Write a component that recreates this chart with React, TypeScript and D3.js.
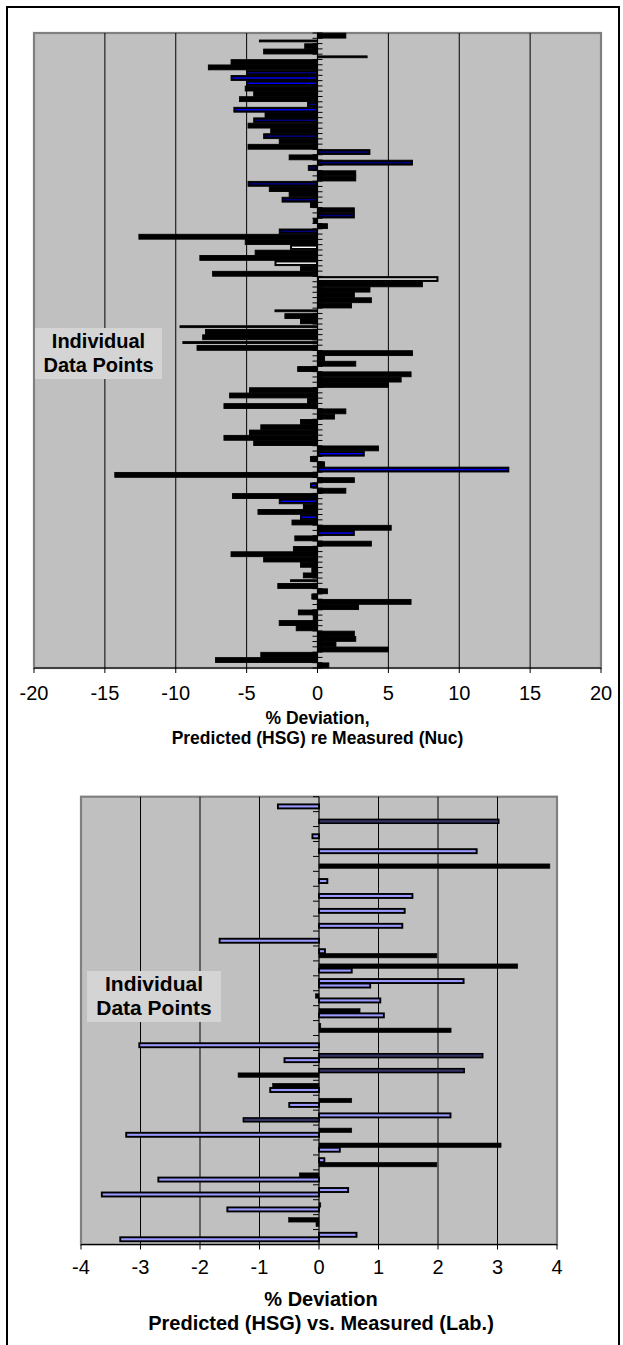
import React from "react";
import * as d3 from "d3";

// % deviation, predicted (HSG) vs nuclear measurement, one value per category, top to bottom
const nucValues = [
  2.0, -4.1, -0.9, -3.8, 3.5, -6.1, -7.7, -5.0, -6.1, -5.0,
  -5.1, -4.5, -5.5, -0.7, -5.9, -3.7, -4.5, -4.9, -3.3, -3.8,
  -2.7, -4.9, 3.7, -2.0, 6.7, -0.65, 2.7, 2.7, -4.9, -3.4,
  -2.0, -2.5, -0.5, 2.6, 2.6, -0.3, 0.7, -2.7, -12.6, -5.1,
  -1.9, -4.4, -8.3, -3.0, -1.2, -7.4, 8.5, 7.4, 3.7, 2.6,
  3.8, 2.4, -3.0, -2.3, -1.2, -9.7, -7.9, -8.1, -9.5, -8.5,
  6.7, 0.5, 2.7, -1.4, 6.6, 5.9, 5.0, -4.8, -6.2, -0.7,
  -6.6, 2.0, 1.2, -1.2, -4.0, -4.8, -6.6, -4.5, 4.3, 3.3,
  -0.5, 0.5, 13.5, -14.3, 2.6, -0.5, 2.0, -6.0, -2.7, -1.0,
  -4.2, -1.2, -1.8, 5.2, 2.6, -1.6, 3.8, -1.7, -6.1, -3.8,
  -1.2, -0.4, -1.0, -1.9, -2.8, 0.7, -0.4, 6.6, 2.9, -1.35,
  -0.3, -2.7, -1.5, 2.6, 2.7, 1.3, 5.0, -4.0, -7.2, 0.8,
];
// k = plain, t = thin, n = navy core, b = blue core, w = white core
const nucKinds =
  "ktkktkknbb" + "kkknbknkkn" + "kknknnkknk" + "knkknkknkk" +
  "wkkwkkwkkk" + "kktkktkktk" + "kkkkkkkkkk" + "kkkkkkkkkb" +
  "kkbkkbkkbk" + "kbkkbkkkkk" + "kkktkkkkkk" + "kkkkkkkkkk";

const nucTicks = [-20, -15, -10, -5, 0, 5, 10, 15, 20];

// % deviation, predicted (HSG) vs lab measurement: two bars per category (upper, lower)
const labUpper = [
  null, null, null, null, null, null, null, null, null, null,
  0.10, 3.34, 2.43, -0.06, 0.69, 0.03, null, 2.75, 2.44, -0.78,
  0.55, 2.21, 0.55, 3.06, 0.09, -0.33, 0.49, 0.03, -0.51, 0.63,
];
const labUpperKinds = "----------" + "bkbkkk-ddk" + "kbkkbkbkkb";
const labLower = [
  -0.69, 3.02, -0.11, 2.65, 3.88, 0.14, 1.57, 1.44, 1.40, -1.67,
  1.98, 0.55, 0.86, 1.03, 1.09, 2.22, -3.02, -0.58, -1.36, -0.82,
  -0.50, -1.27, -3.24, 0.35, 1.98, -2.70, -3.65, -1.54, -0.05, -3.34,
];
const labLowerKinds = "bdbbkbbbbb" + "kbbbbkbbkb" + "bdbbkbbbkb";

const labTicks = [-4, -3, -2, -1, 0, 1, 2, 3, 4];

const FONT = "'Liberation Sans', Arial, Helvetica, sans-serif";
const PLOT_FILL = "#c0c0c0";
const PLOT_EDGE = "#808080";

function PlotFrame({ x, ticks, top, bottom }) {
  const [x0, x1] = x.range();
  return (
    <g>
      <rect x={x0} y={top} width={x1 - x0} height={bottom - top} fill={PLOT_FILL} stroke={PLOT_EDGE} strokeWidth={2.2} />
      {ticks.filter((t) => t !== ticks[0] && t !== ticks[ticks.length - 1] && t !== 0).map((t) => (
        <line key={t} x1={x(t)} x2={x(t)} y1={top} y2={bottom} stroke="#000" strokeWidth={1} />
      ))}
    </g>
  );
}

function XAxis({ x, ticks, bottom, fontSize, labelGap }) {
  const [x0, x1] = x.range();
  return (
    <g>
      <line x1={x0} x2={x1} y1={bottom} y2={bottom} stroke="#000" strokeWidth={1.2} />
      {ticks.map((t) => (
        <g key={t}>
          <line x1={x(t)} x2={x(t)} y1={bottom} y2={bottom + 5} stroke="#000" strokeWidth={1} />
          <text x={x(t)} y={bottom + labelGap} textAnchor="middle" fontSize={fontSize} fontFamily={FONT} fill="#000">
            {t}
          </text>
        </g>
      ))}
    </g>
  );
}

function NoteBox({ x, y, w, h, fontSize }) {
  return (
    <g>
      <rect x={x} y={y} width={w} height={h} fill="#d4d4d4" />
      <text x={x + w / 2} textAnchor="middle" fontSize={fontSize} fontWeight="bold" fontFamily={FONT} fill="#000">
        <tspan x={x + w / 2} y={y + 19.5}>Individual</tspan>
        <tspan x={x + w / 2} y={y + 43.5}>Data Points</tspan>
      </text>
    </g>
  );
}

function NucChart() {
  const top = 33;
  const bottom = 668;
  const x = d3.scaleLinear().domain([-20, 20]).range([34, 601]);
  const y = d3.scaleBand().domain(d3.range(nucValues.length)).range([top, bottom]);
  const bw = y.bandwidth();
  const zero = x(0);
  const coreColor = { n: "#000080", b: "#0000ff", w: "#ffffff" };

  return (
    <g>
      <PlotFrame x={x} ticks={nucTicks} top={top} bottom={bottom} />
      <NoteBox x={35} y={328} w={127} h={51} fontSize={20} />
      {nucValues.map((v, i) => {
        const kind = nucKinds[i];
        const h = kind === "t" ? bw * 0.35 : bw * 0.92;
        const yy = y(i) + (bw - h) / 2;
        const left = Math.min(zero, x(v));
        const w = Math.abs(x(v) - zero);
        return (
          <g key={i}>
            <rect x={left} y={yy} width={w} height={h} fill="#000" stroke="#000" strokeWidth={0.9} />
            {coreColor[kind] && (
              <rect x={left + 1.5} y={y(i) + bw / 2 - 0.7} width={Math.max(0, w - 3)} height={1.4} fill={coreColor[kind]} />
            )}
          </g>
        );
      })}
      <line x1={zero} x2={zero} y1={top} y2={bottom} stroke="#000" strokeWidth={1.2} />
      {d3.range(nucValues.length + 1).map((i) => {
        const ty = top + i * bw;
        return <line key={i} x1={zero - 5} x2={zero + 5} y1={ty} y2={ty} stroke="#000" strokeWidth={1} />;
      })}
      <XAxis x={x} ticks={nucTicks} bottom={bottom} fontSize={20} labelGap={32} />
      <text x={317.5} textAnchor="middle" fontSize={17.5} fontWeight="bold" fontFamily={FONT} fill="#000">
        <tspan x={317.5} y={724}>% Deviation,</tspan>
        <tspan x={317.5} y={744}>Predicted (HSG) re Measured (Nuc)</tspan>
      </text>
    </g>
  );
}

function LabChart() {
  const top = 796.7;
  const bottom = 1244.5;
  const cats = d3.range(labLower.length);
  const x = d3.scaleLinear().domain([-4, 4]).range([81, 557]);
  const y = d3.scaleBand().domain(cats).range([top, bottom]);
  const bw = y.bandwidth();
  const sub = d3.scaleBand().domain(["upper", "lower"]).range([bw * 0.2, bw * 0.8]);
  const zero = x(0);

  const bars = [];
  cats.forEach((c) => {
    if (labUpper[c] !== null) bars.push({ c, slot: "upper", v: labUpper[c], kind: labUpperKinds[c] });
  });
  cats.forEach((c) => {
    bars.push({ c, slot: "lower", v: labLower[c], kind: labLowerKinds[c] });
  });

  const style = {
    b: { fill: "#9999ff", stroke: "#000", sw: 1.9, h: 4.0 },
    d: { fill: "#333366", stroke: "#000", sw: 1.6, h: 3.8 },
    k: { fill: "#000", stroke: "#000", sw: 0.6, h: 4.4 },
  };

  return (
    <g>
      <PlotFrame x={x} ticks={labTicks} top={top} bottom={bottom} />
      <NoteBox x={87} y={971} w={134} h={51} fontSize={21} />
      {bars.map((b, i) => {
        const s = style[b.kind];
        const cy = y(b.c) + sub(b.slot) + sub.bandwidth() / 2;
        const left = Math.min(zero, x(b.v));
        const w = Math.max(1, Math.abs(x(b.v) - zero));
        return (
          <rect key={i} x={left} y={cy - s.h / 2} width={w} height={s.h} fill={s.fill} stroke={s.stroke} strokeWidth={s.sw} />
        );
      })}
      <line x1={zero} x2={zero} y1={top} y2={bottom} stroke="#000" strokeWidth={1.2} />
      {d3.range(cats.length + 1).map((i) => {
        const ty = top + i * bw;
        return <line key={i} x1={zero - 6} x2={zero} y1={ty} y2={ty} stroke="#000" strokeWidth={1} />;
      })}
      <XAxis x={x} ticks={labTicks} bottom={bottom} fontSize={20} labelGap={29.5} />
      <text x={321} textAnchor="middle" fontSize={20} fontWeight="bold" fontFamily={FONT} fill="#000">
        <tspan x={321} y={1306}>% Deviation</tspan>
        <tspan x={321} y={1329.5}>Predicted (HSG) vs. Measured (Lab.)</tspan>
      </text>
    </g>
  );
}

export default function App() {
  return (
    <svg
      width={623}
      height={1345}
      viewBox="0 0 623 1345"
      style={{ position: "absolute", left: 0, top: 0, background: "#fff" }}
    >
      <rect x={0} y={0} width={623} height={1345} fill="#fff" />
      <rect x={7} y={7} width={612} height={1360} fill="none" stroke="#000" strokeWidth={2} />
      <NucChart />
      <LabChart />
    </svg>
  );
}
